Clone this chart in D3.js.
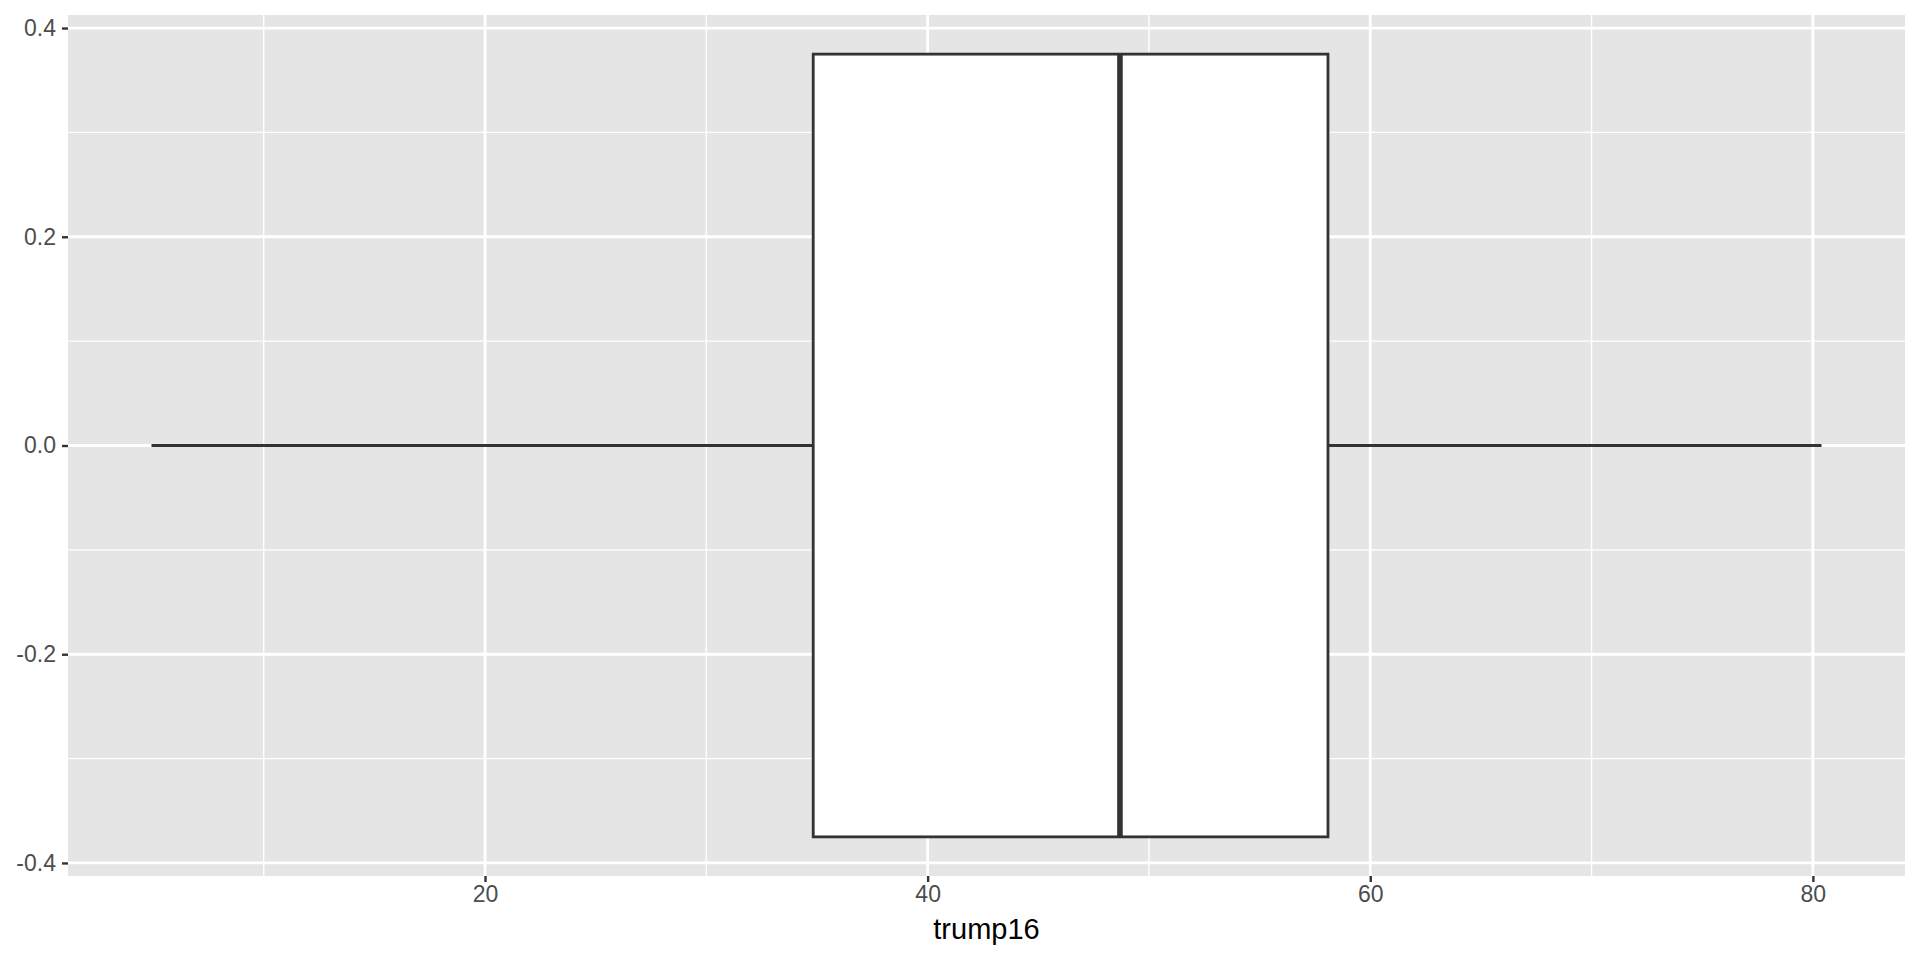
<!DOCTYPE html>
<meta charset="utf-8">
<style>
    body { margin: 0; background: #fff; }
    text { font-family: "Liberation Sans", Arial, sans-serif; }
</style>
<body>
<script src="https://cdn.jsdelivr.net/npm/d3@7"></script>
<script>

    // boxplot stats of trump16
    var boxStats = { min: 4.93, q1: 34.83, median: 48.69, q3: 58.09, max: 80.39 };
    var xTicks = [20, 40, 60, 80];
    var xMinor = [10, 30, 50, 70];
    var yTicks = [-0.4, -0.2, 0.0, 0.2, 0.4];
    var yMinor = [-0.3, -0.1, 0.1, 0.3];
    var boxHalfWidth = 0.375;
    var xLabel = "trump16";

    var width = 1920, height = 960;
    var margin = { top: 15, right: 15, bottom: 84, left: 68 };
    var pw = width - margin.left - margin.right,
        ph = height - margin.top - margin.bottom;

    var span = boxStats.max - boxStats.min;
    var x = d3.scaleLinear()
        .domain([boxStats.min - span * 0.05, boxStats.max + span * 0.05])
        .range([0, pw]);
    var y = d3.scaleLinear()
        .domain([-boxHalfWidth - 0.0375, boxHalfWidth + 0.0375])
        .range([ph, 0]);

    var svg = d3.select("body").append("svg")
        .attr("width", width)
        .attr("height", height);

    var g = svg.append("g")
        .attr("transform", "translate(" + margin.left + "," + margin.top + ")");

    // panel
    g.append("rect")
        .attr("width", pw).attr("height", ph)
        .attr("fill", "#E5E5E5");

    // minor grid
    g.selectAll(".xminor").data(xMinor).enter().append("line")
        .attr("x1", x).attr("x2", x).attr("y1", 0).attr("y2", ph)
        .attr("stroke", "#fff").attr("stroke-width", 1.4);
    g.selectAll(".yminor").data(yMinor).enter().append("line")
        .attr("y1", y).attr("y2", y).attr("x1", 0).attr("x2", pw)
        .attr("stroke", "#fff").attr("stroke-width", 1.4);

    // major grid
    g.selectAll(".xmajor").data(xTicks).enter().append("line")
        .attr("x1", x).attr("x2", x).attr("y1", 0).attr("y2", ph)
        .attr("stroke", "#fff").attr("stroke-width", 2.8);
    g.selectAll(".ymajor").data(yTicks).enter().append("line")
        .attr("y1", y).attr("y2", y).attr("x1", 0).attr("x2", pw)
        .attr("stroke", "#fff").attr("stroke-width", 2.8);

    // whiskers
    var ink = "#333333";
    g.append("line")
        .attr("x1", x(boxStats.min)).attr("x2", x(boxStats.q1))
        .attr("y1", y(0)).attr("y2", y(0))
        .attr("stroke", ink).attr("stroke-width", 2.8);
    g.append("line")
        .attr("x1", x(boxStats.q3)).attr("x2", x(boxStats.max))
        .attr("y1", y(0)).attr("y2", y(0))
        .attr("stroke", ink).attr("stroke-width", 2.8);

    // box
    g.append("rect")
        .attr("x", x(boxStats.q1))
        .attr("y", y(boxHalfWidth))
        .attr("width", x(boxStats.q3) - x(boxStats.q1))
        .attr("height", y(-boxHalfWidth) - y(boxHalfWidth))
        .attr("fill", "#fff")
        .attr("stroke", ink).attr("stroke-width", 2.8);

    // median
    g.append("line")
        .attr("x1", x(boxStats.median)).attr("x2", x(boxStats.median))
        .attr("y1", y(boxHalfWidth)).attr("y2", y(-boxHalfWidth))
        .attr("stroke", ink).attr("stroke-width", 5.6);

    // axes (plain hyphen for negatives, like the original)
    var fmtY = function (d) { return d.toFixed(1); };
    var xAxis = g.append("g")
        .attr("transform", "translate(0," + ph + ")")
        .call(d3.axisBottom(x).tickValues(xTicks).tickSize(6).tickPadding(4).tickFormat(d3.format("d")));
    var yAxis = g.append("g")
        .call(d3.axisLeft(y).tickValues(yTicks).tickSize(6).tickPadding(6).tickFormat(fmtY));

    [xAxis, yAxis].forEach(function (a) {
        a.select(".domain").remove();
        a.selectAll(".tick line").attr("stroke", ink).attr("stroke-width", 2.4);
        a.selectAll(".tick text")
            .attr("fill", "#4D4D4D")
            .style("font-size", "23px")
            .style("font-family", "'Liberation Sans', Arial, sans-serif");
    });

    // axis title
    svg.append("text")
        .attr("x", margin.left + pw / 2)
        .attr("y", 939)
        .attr("text-anchor", "middle")
        .attr("fill", "#000")
        .style("font-size", "29px")
        .text(xLabel);

</script>
</body>
